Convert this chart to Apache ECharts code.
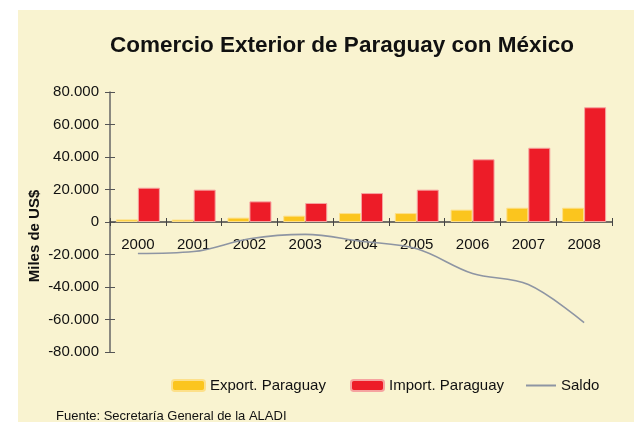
<!DOCTYPE html>
<html>
<head>
<meta charset="utf-8">
<script src="https://cdn.jsdelivr.net/npm/echarts@6/dist/echarts.min.js"></script>
<style>
  html, body { margin: 0; padding: 0; background: #ffffff; }
  #chart { width: 634px; height: 422px; }
</style>
</head>
<body>
<div id="chart"></div>
<script>
// datos del gráfico (miles de US$)
const years = ['2000', '2001', '2002', '2003', '2004', '2005', '2006', '2007', '2008'];
const exportPy = [1600, 1500, 2700, 3900, 5500, 5500, 7600, 8800, 8800];
const importPy = [21100, 19900, 12700, 11700, 17800, 19900, 38600, 45700, 70600];
const saldo = [-19400, -18200, -10300, -7600, -11800, -16500, -31700, -38500, -61900];

const FONT = 'Liberation Sans, Arial, sans-serif';
const PANEL = '#f9f3d0';

// área del gráfico
const GRID = { left: 110, right: 22, top: 92, bottom: 70 };
const plotH = 422 - GRID.top - GRID.bottom;
// el eje de categorías va en el cero (mitad del rango -80.000 .. 80.000)
const zeroOffset = -plotH / 2;

function fmtMiles(v) {
  if (v === 0) return '0';
  return (v / 1000) + '.000';
}

const chart = echarts.init(document.getElementById('chart'), null, { renderer: 'canvas' });

const yCommon = {
  type: 'value',
  min: -80000,
  max: 80000,
  interval: 20000,
  position: 'left',
  splitLine: { show: false }
};

const legendText = { fontSize: 15, color: '#111', fontFamily: FONT };

chart.setOption({
  backgroundColor: '#ffffff',
  animation: false,
  textStyle: { fontFamily: FONT },
  title: {
    text: 'Comercio Exterior de Paraguay con México',
    left: 337,
    top: 29,
    textAlign: 'center',
    textStyle: { fontSize: 22.5, fontWeight: 'bold', color: '#111', fontFamily: FONT }
  },
  graphic: [
    {
      type: 'rect',
      z: -100,
      shape: { x: 18, y: 10, width: 616, height: 412 },
      style: { fill: PANEL }
    },
    {
      type: 'text',
      x: 35,
      y: 236,
      rotation: Math.PI / 2,
      style: {
        text: 'Miles de US$',
        fontSize: 15,
        fontWeight: 'bold',
        fontFamily: FONT,
        fill: '#111',
        align: 'center',
        verticalAlign: 'middle'
      }
    },
    {
      type: 'text',
      x: 56,
      y: 416,
      style: {
        text: 'Fuente: Secretaría General de la ALADI',
        fontSize: 13,
        fontFamily: FONT,
        fill: '#111',
        verticalAlign: 'middle'
      }
    }
  ],
  legend: [
    {
      data: ['Export. Paraguay'],
      left: 171, top: 378, padding: 0,
      itemWidth: 33, itemHeight: 11,
      textStyle: legendText
    },
    {
      data: ['Import. Paraguay'],
      left: 350, top: 378, padding: 0,
      itemWidth: 33, itemHeight: 11,
      textStyle: legendText
    },
    {
      data: [{ name: 'Saldo', icon: 'rect' }],
      left: 526, top: 378, padding: 0,
      itemWidth: 30, itemHeight: 2,
      textStyle: legendText
    }
  ],
  grid: GRID,
  xAxis: [
    {
      type: 'category',
      data: years,
      position: 'bottom',
      offset: zeroOffset,
      axisLine: { onZero: false, lineStyle: { color: '#444', width: 1.5 } },
      axisTick: { show: true, length: 4, lineStyle: { color: '#444' } },
      axisLabel: { margin: 15, fontSize: 15, color: '#111', fontFamily: FONT }
    },
    {
      type: 'category',
      data: years,
      position: 'bottom',
      offset: zeroOffset,
      axisLine: { show: false, onZero: false },
      axisTick: { show: true, inside: true, length: 4, lineStyle: { color: '#444' } },
      axisLabel: { show: false }
    }
  ],
  yAxis: [
    Object.assign({}, yCommon, {
      axisLine: { show: true, onZero: false, lineStyle: { color: '#666', width: 1.5 } },
      axisTick: { show: true, length: 5, lineStyle: { color: '#555' } },
      axisLabel: { margin: 11, fontSize: 15, color: '#111', fontFamily: FONT, formatter: fmtMiles }
    }),
    Object.assign({}, yCommon, {
      axisLine: { show: false, onZero: false },
      axisTick: { show: true, inside: true, length: 5, lineStyle: { color: '#555' } },
      axisLabel: { show: false }
    })
  ],
  series: [
    {
      name: 'Export. Paraguay',
      type: 'bar',
      data: exportPy,
      barWidth: 22,
      barGap: '0%',
      itemStyle: { color: '#fbc51e', borderColor: '#fde08a', borderWidth: 1 }
    },
    {
      name: 'Import. Paraguay',
      type: 'bar',
      data: importPy,
      barWidth: 22,
      barGap: '0%',
      itemStyle: { color: '#ed1c28', borderColor: '#f6a3a0', borderWidth: 1 }
    },
    {
      name: 'Saldo',
      type: 'line',
      data: saldo,
      smooth: 0.35,
      symbol: 'none',
      z: 5,
      lineStyle: { color: '#8e95a3', width: 1.6 },
      itemStyle: { color: '#8e95a3' }
    }
  ]
});
</script>
</body>
</html>
